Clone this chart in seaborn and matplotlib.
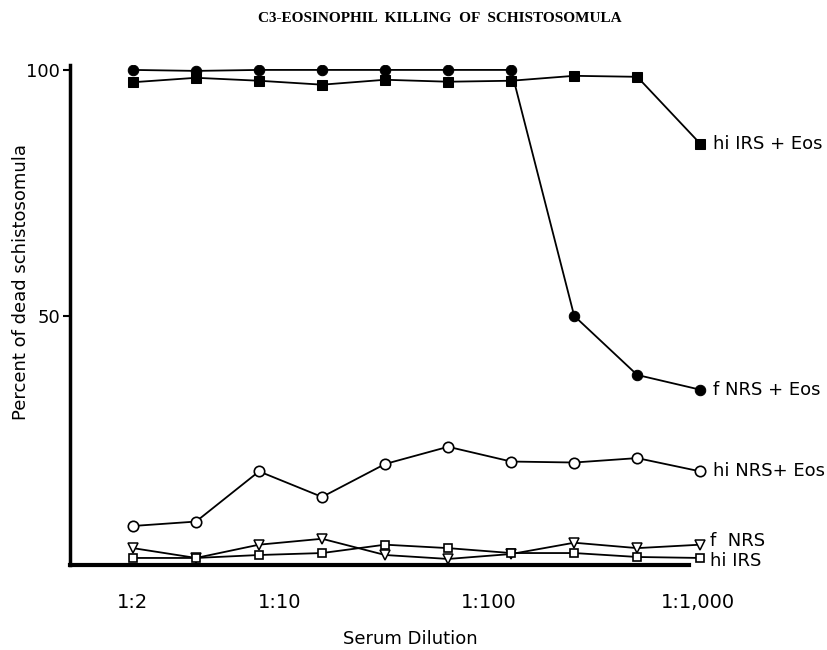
import matplotlib
matplotlib.use("Agg")
import matplotlib.pyplot as plt
import seaborn as sns
import pandas as pd

# Data
dilutions = [2, 4, 8, 16, 32, 64, 128, 256, 512, 1024]
f_nrs_eos = [100, 99.8, 100, 100, 100, 100, 100, 50, 38, 35]
hi_irs_eos = [97.5, 98.4, 97.8, 97.0, 98.0, 97.6, 97.8, 98.8, 98.6, 85]
hi_nrs_eos = [7.3, 8.2, 18.4, 13.2, 19.9, 23.4, 20.4, 20.2, 21.1, 18.4]
f_nrs = [2.8, 0.8, 3.5, 4.7, 1.4, 0.6, 1.6, 3.9, 2.8, 3.5]
hi_irs = [0.8, 0.8, 1.4, 1.8, 3.5, 2.8, 1.8, 1.8, 1.0, 0.8]

series_labels = ["hi IRS + Eos", "f NRS + Eos", "hi NRS+ Eos", "f  NRS", "hi IRS"]
tick_vals = [2, 10, 100, 1000]
tick_labels = ["1:2", "1:10", "1:100", "1:1,000"]

sns.set_theme(style="white")
plt.rcParams['font.family'] = ['DejaVu Sans']
plt.rcParams['text.color'] = 'black'
plt.rcParams['axes.labelcolor'] = 'black'
plt.rcParams['xtick.color'] = 'black'
plt.rcParams['ytick.color'] = 'black'

fig = plt.figure(figsize=(8.27, 6.5), dpi=100)
ax = fig.add_axes([0.0846, 0.131, 0.77, 0.769])

styles = [
    (hi_irs_eos, dict(marker="s", markersize=6.5, markerfacecolor="black", markeredgecolor="black")),
    (f_nrs_eos, dict(marker="o", markersize=7.5, markerfacecolor="black", markeredgecolor="black")),
    (hi_nrs_eos, dict(marker="o", markersize=7.5, markerfacecolor="white", markeredgecolor="black", markeredgewidth=1.2)),
    (f_nrs, dict(marker="v", markersize=6.5, markerfacecolor="white", markeredgecolor="black", markeredgewidth=1.1)),
    (hi_irs, dict(marker="s", markersize=6, markerfacecolor="white", markeredgecolor="black", markeredgewidth=1.2)),
]

for (vals, kw), lab in zip(styles, series_labels):
    df = pd.DataFrame({"dilution": dilutions, "pct": vals})
    sns.lineplot(data=df, x="dilution", y="pct", ax=ax, color="black",
                 linewidth=1.3, legend=False, **kw)

ax.set_xscale("log")
ax.set_xlim(1, 1100)
ax.set_ylim(-0.6, 101)

ax.set_xticks(tick_vals)
ax.set_xticklabels(tick_labels, fontsize=14)
ax.minorticks_off()
ax.tick_params(axis="x", length=0, pad=20)
ax.set_yticks([50, 100])
ax.set_yticklabels(["50", "100"], fontsize=13)
ax.tick_params(axis="y", left=True, length=5, width=1.5, pad=2, direction="out")

for s in ["top", "right"]:
    ax.spines[s].set_visible(False)
ax.spines["left"].set_linewidth(2.5)
ax.spines["bottom"].set_linewidth(3)
ax.spines["left"].set_color("black")
ax.spines["bottom"].set_color("black")
ax.spines["bottom"].set_bounds(1, 900)

ax.set_xlabel("Serum Dilution", fontsize=13)
ax.xaxis.set_label_coords(0.534, -0.13)
ax.set_ylabel("Percent of dead schistosomula", fontsize=13)
ax.yaxis.set_label_coords(-0.062, 0.566)

# end labels
label_offsets = [(9, 0), (9, 0), (9, 0), (7, 3), (7, -2)]
for (vals, kw), lab, off in zip(styles, series_labels, label_offsets):
    ax.annotate(lab, xy=(dilutions[-1], vals[-1]), xytext=off,
                textcoords="offset points", va="center", ha="left",
                fontsize=13, color="black", annotation_clip=False)

fig.text(0.532, 0.972, "C3-EOSINOPHIL  KILLING  OF  SCHISTOSOMULA",
         ha="center", va="center", fontsize=11, fontweight="bold",
         family="Liberation Serif", color="black")

fig.savefig("out.png", dpi=100)
